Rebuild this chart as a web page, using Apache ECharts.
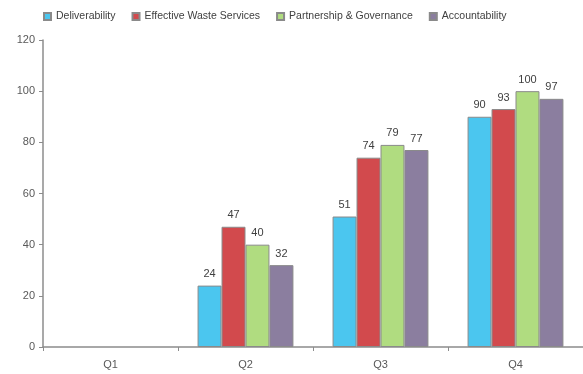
<!DOCTYPE html>
<html>
<head>
<meta charset="utf-8">
<script src="https://cdn.jsdelivr.net/npm/echarts@6/dist/echarts.min.js"></script>
<style>
  html, body { margin: 0; padding: 0; background: #fff; }
  #chart { width: 583px; height: 374px; }
</style>
</head>
<body>
<div id="chart"></div>
<script>
const categories = ["Q1", "Q2", "Q3", "Q4"];
const deliverability = [null, 24, 51, 90];
const wasteServices = [null, 47, 74, 93];
const partnership = [null, 40, 79, 100];
const accountability = [null, 32, 77, 97];

const seriesNames = [
  "Deliverability",
  "Effective Waste Services",
  "Partnership & Governance",
  "Accountability"
];
const seriesData = [deliverability, wasteServices, partnership, accountability];
const colors = ["#4bc6ef", "#d24a4d", "#b0dc80", "#8b7e9f"];

const chart = echarts.init(document.getElementById("chart"));

const baseFont = { fontFamily: "Liberation Sans", fontSize: 11, color: "#595959" };

chart.setOption({
  animation: false,
  color: colors,
  legend: {
    top: 6,
    left: 38,
    itemWidth: 7,
    itemHeight: 7,
    itemGap: 16,
    icon: "rect",
    textStyle: { ...baseFont, fontSize: 10.5, color: "#404040" },
    data: seriesNames
  },
  grid: { top: 40, left: 43, right: 0, bottom: 27 },
  xAxis: {
    type: "category",
    data: categories,
    axisLine: { lineStyle: { color: "#8c8c8c", width: 1.5 } },
    axisTick: { show: true, length: 4, lineStyle: { color: "#8c8c8c" } },
    axisLabel: { ...baseFont, margin: 12 }
  },
  yAxis: {
    type: "value",
    min: 0,
    max: 120,
    interval: 20,
    axisLine: { show: true, lineStyle: { color: "#8c8c8c", width: 1.5 } },
    axisTick: { show: true, length: 4, lineStyle: { color: "#8c8c8c" } },
    axisLabel: { ...baseFont, margin: 8 },
    splitLine: { show: false }
  },
  series: seriesNames.map((name, i) => ({
    name,
    type: "bar",
    data: seriesData[i],
    barGap: "0%",
    barCategoryGap: "29%",
    itemStyle: { color: colors[i], borderColor: "#8a8a8a", borderWidth: 1 },
    label: {
      show: true,
      position: "top",
      distance: 6,
      ...baseFont,
      color: "#404040"
    }
  }))
});
</script>
</body>
</html>
